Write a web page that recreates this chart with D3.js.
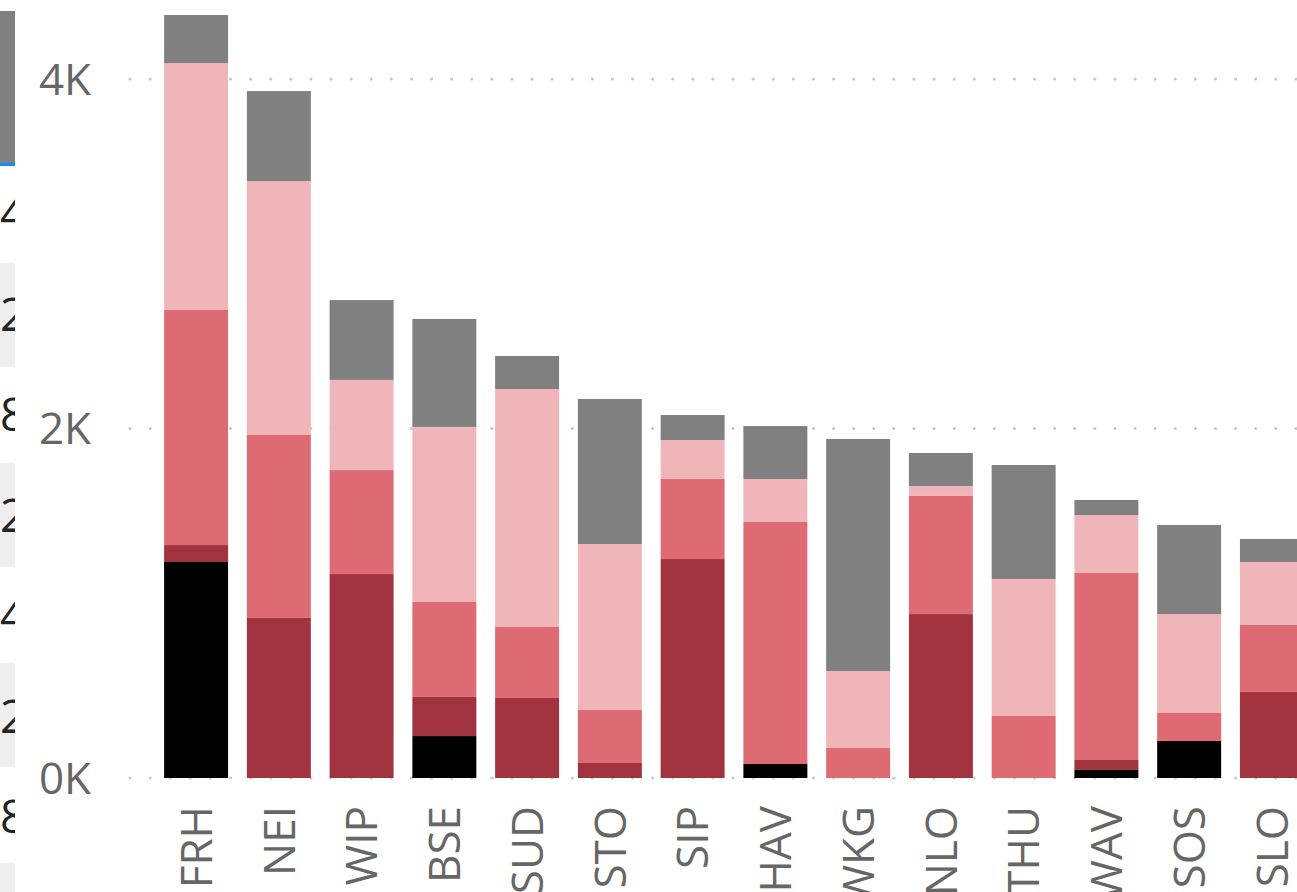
<!DOCTYPE html>
<html>
<head>
<meta charset="utf-8">
<script src="https://cdn.jsdelivr.net/npm/d3@7"></script>
<style>
  html, body { margin: 0; padding: 0; background: #fff; overflow: hidden; }
</style>
</head>
<body>
<div id="chart"></div>
<script>
// data (values in units, stacked bottom -> top)
const categories = ["FRH", "NEI", "WIP", "BSE", "SUD", "STO", "SIP", "HAV", "WKG", "NLO", "THU", "WAV", "SOS", "SLO"];
const seriesNames = ["black", "darkred", "red", "pink", "gray"];
const blackVals   = [1236,    0,    0,  240,    0,    0,    0,   80,    0,    0,    0,   46,  212,    0];
const darkredVals = [  97,  916, 1167,  224,  458,   86, 1253,    0,    0,  938,    0,   57,    0,  492];
const redVals     = [1345, 1047,  595,  543,  406,  303,  458, 1385,  172,  676,  355, 1070,  160,  384];
const pinkVals    = [1413, 1453,  516, 1002, 1362,  950,  223,  246,  440,   57,  784,  332,  566,  360];
const grayVals    = [ 275,  515,  457,  618,  189,  830,  143,  303, 1328,  189,  652,   86,  510,  132];
const yTicks = [0, 2000, 4000];
const yTickLabels = ["0K", "2K", "4K"];
// clipped neighbour visual on the far left
const sideGlyphs = ["4", "2", "8", "2", "4", "2", "8"];

const width = 1297, height = 892;
const colors = d3.scaleOrdinal()
  .domain(seriesNames)
  .range(["#000000", "#A0333E", "#DE6B73", "#F0B5B9", "#808080"]);

const svg = d3.select("#chart").append("svg")
  .attr("width", width)
  .attr("height", height)
  .attr("font-family", "'Segoe UI', 'Open Sans', sans-serif")
  .style("display", "block");

// scales
const x = d3.scaleBand()
  .domain(categories)
  .range([131, 1337])
  .paddingInner(0.227)
  .paddingOuter(0.4);

const y = d3.scaleLinear()
  .domain([0, 4000])
  .range([778, 79]);

// left strip (piece of another visual, cut at the edge)
const side = svg.append("g");
side.append("clipPath").attr("id", "sideclip")
  .append("rect").attr("x", 0).attr("y", 0).attr("width", 15).attr("height", height);
const sideG = side.append("g").attr("clip-path", "url(#sideclip)");
sideG.selectAll("rect.band")
  .data(d3.range(4))
  .join("rect")
  .attr("class", "band")
  .attr("x", 0)
  .attr("y", i => 263 + i * 200)
  .attr("width", 15)
  .attr("height", 104)
  .attr("fill", "#EEEEEE");
sideG.append("rect").attr("x", 0).attr("y", 11).attr("width", 15).attr("height", 152).attr("fill", "#808080");
sideG.append("rect").attr("x", 0).attr("y", 163).attr("width", 15).attr("height", 3).attr("fill", "#118DFF");
sideG.selectAll("text")
  .data(sideGlyphs)
  .join("text")
  .attr("x", 0)
  .attr("y", (d, i) => 230 + i * 100.5)
  .attr("font-size", 46)
  .attr("fill", "#252423")
  .text(d => d);

// grid lines (dotted)
svg.append("g")
  .selectAll("line")
  .data(yTicks)
  .join("line")
  .attr("x1", 130)
  .attr("x2", width)
  .attr("y1", d => y(d))
  .attr("y2", d => y(d))
  .attr("stroke", "#C8C8C8")
  .attr("stroke-width", 3)
  .attr("stroke-linecap", "round")
  .attr("stroke-dasharray", "0.1 20");

// y labels
svg.append("g")
  .selectAll("text")
  .data(yTicks)
  .join("text")
  .attr("x", 91)
  .attr("y", d => y(d))
  .attr("dy", "0.36em")
  .attr("text-anchor", "end")
  .attr("font-size", 44)
  .attr("fill", "#666666")
  .text((d, i) => yTickLabels[i]);

// stacked bars
const table = categories.map((c, i) => ({
  cat: c,
  black: blackVals[i],
  darkred: darkredVals[i],
  red: redVals[i],
  pink: pinkVals[i],
  gray: grayVals[i]
}));
const stacked = d3.stack().keys(seriesNames)(table);

svg.append("g")
  .selectAll("g")
  .data(stacked)
  .join("g")
  .attr("fill", d => colors(d.key))
  .selectAll("rect")
  .data(d => d.filter(s => s[1] > s[0]))
  .join("rect")
  .attr("x", d => x(d.data.cat))
  .attr("y", d => y(d[1]))
  .attr("width", x.bandwidth())
  .attr("height", d => y(d[0]) - y(d[1]));

// x labels (rotated)
svg.append("g")
  .selectAll("text")
  .data(categories)
  .join("text")
  .attr("transform", d => `translate(${x(d) + x.bandwidth() / 2},806) rotate(-90)`)
  .attr("dy", "0.36em")
  .attr("text-anchor", "end")
  .attr("font-size", 44)
  .attr("fill", "#666666")
  .text(d => d);
</script>
</body>
</html>
